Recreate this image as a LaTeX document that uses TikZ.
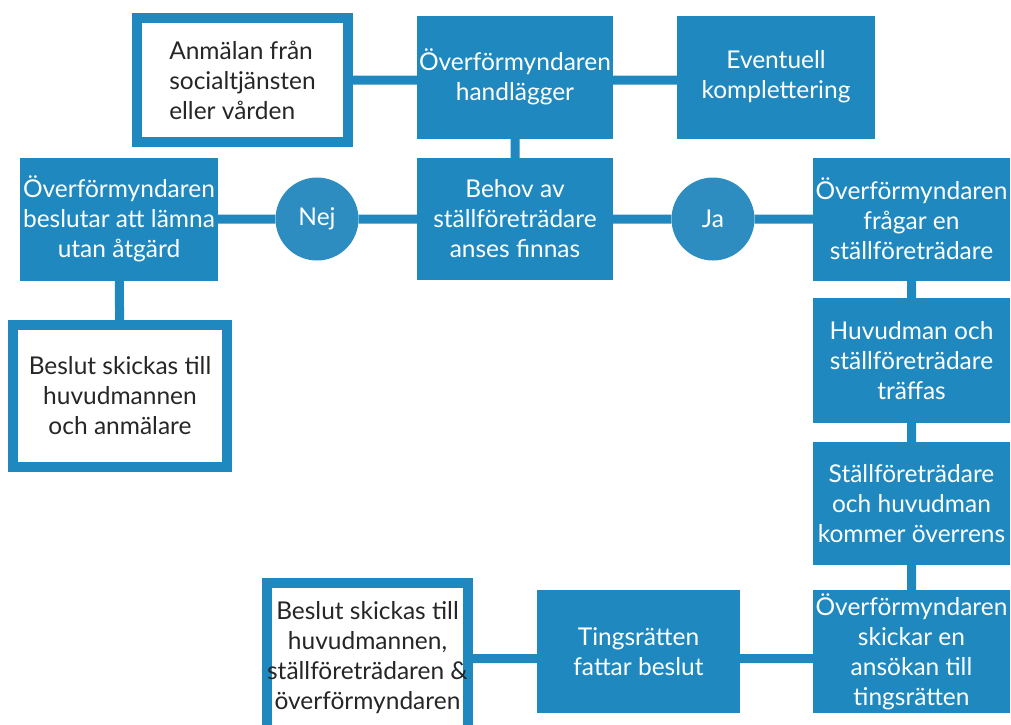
\documentclass[tikz,border=0pt]{standalone}
\usepackage{fontspec}
\setmainfont{Lato}
\definecolor{boxblue}{RGB}{31,137,191}
\definecolor{ringblue}{RGB}{45,141,192}

\begin{document}
\begin{tikzpicture}[x=1pt, y=-1pt]
\tikzstyle{every node}=[align=center, inner sep=0pt, font=\fontsize{24.5}{30}\selectfont];
\tikzstyle{bluebox}=[fill=boxblue, text=white, minimum width=197pt, minimum height=123pt];
\tikzstyle{whitebox}=[draw=boxblue, line width=10pt, fill=white, text=black!85];
\tikzstyle{answer}=[circle, fill=ringblue, text=white, minimum size=83pt];
\tikzstyle{link}=[boxblue, line width=9pt];
\useasboundingbox (0,0) rectangle (1011,724);
\clip (0,0) rectangle (1011,724);

\path (242.5,80) node[whitebox, align=left, minimum width=211pt, minimum height=124pt] (anm) {Anmälan från\\socialtjänsten\\eller vården};
\path (515,77) node[bluebox, minimum width=196pt] (hand) {Överförmyndaren\\handlägger};
\path (776,77) node[bluebox, minimum width=198pt] (komp) {Eventuell\\komplettering};
\path (515,219) node[bluebox, minimum width=196pt, minimum height=122pt] (behov) {Behov av\\ställföreträdare\\anses finnas};
\path (317,219) node[answer] (nej) {Nej};
\path (713,219) node[answer] (ja) {Ja};
\path (119,219) node[bluebox, minimum width=198pt] (lamna) {Överförmyndaren\\beslutar att lämna\\utan åtgärd};
\path (120,396) node[whitebox, minimum width=214pt, minimum height=142pt] (beslut) {Beslut skickas till\\huvudmannen\\och anmälare};
\path (911.5,219) node[bluebox] (fragar) {Överförmyndaren\\frågar en\\ställföreträdare};
\path (911.5,360.5) node[bluebox, minimum height=125pt] (traffas) {Huvudman och\\ställföreträdare\\träffas};
\path (911.5,503.5) node[bluebox] (overens) {Ställföreträdare\\och huvudman\\kommer överrens};
\path (911.5,651.5) node[bluebox] (skickar) {Överförmyndaren\\skickar en\\ansökan till\\tingsrätten};
\path (638.5,651.5) node[bluebox, minimum width=203pt] (ting) {Tingsrätten\\fattar beslut};
\path (367.5,658) node[whitebox, minimum width=199pt, minimum height=150pt] (slut) {Beslut skickas till\\huvudmannen,\\ställföreträdaren \&\\överförmyndaren};

\draw[link]
(anm.east) -- (anm.east -| hand.west)
(hand.east |- anm.east) -- (anm.east -| komp.west)
(hand) -- (behov)
(lamna) -- (nej) (nej) -- (behov) (behov) -- (ja) (ja) -- (fragar)
(lamna) -- (beslut)
(fragar) -- (traffas) (traffas) -- (overens) (overens) -- (skickar)
([yshift=-7pt]skickar.west) -- ([yshift=-7pt]ting.east)
([yshift=-7pt]ting.west) -- ([yshift=-7pt]ting.west -| slut.east)
;
\end{tikzpicture}
\end{document}
